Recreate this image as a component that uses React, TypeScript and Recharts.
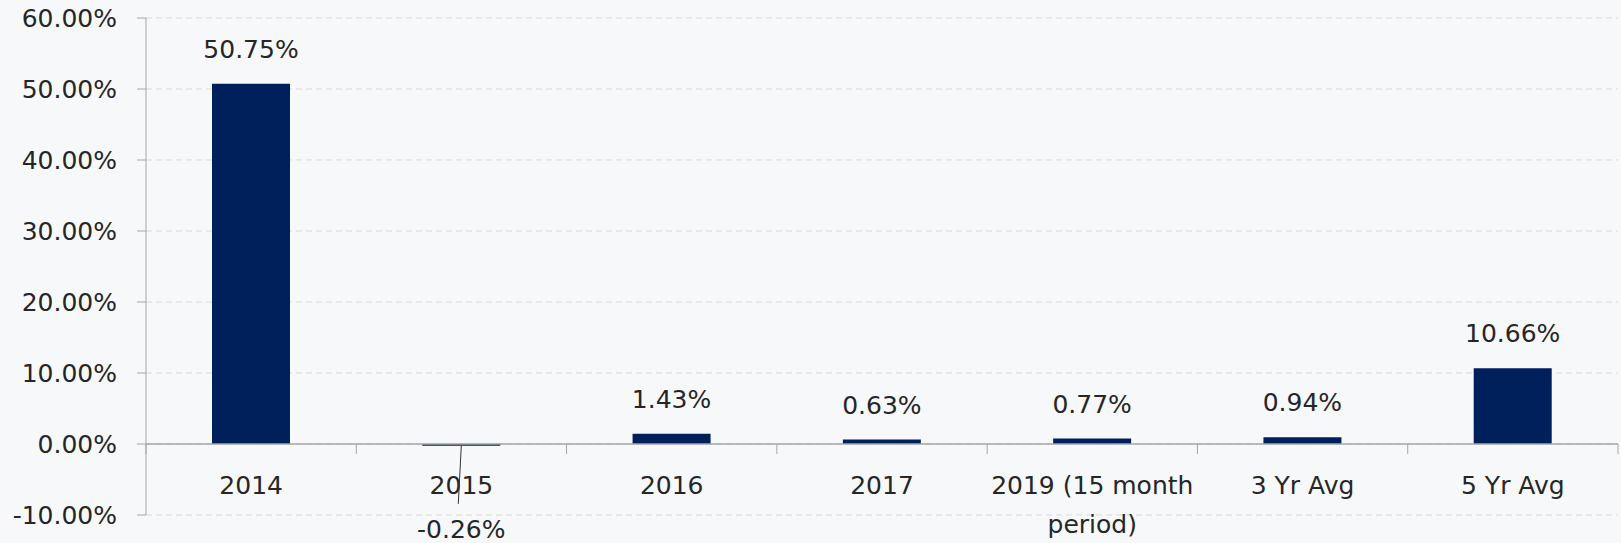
import { BarChart, Bar, XAxis, YAxis, CartesianGrid, ReferenceLine, LabelList } from 'recharts'

const CATEGORIES = ['2014', '2015', '2016', '2017', '2019 (15 month period)', '3 Yr Avg', '5 Yr Avg']
const RETURNS = [50.75, -0.26, 1.43, 0.63, 0.77, 0.94, 10.66]
const Y_TICKS = [-10, 0, 10, 20, 30, 40, 50, 60]

const data = CATEGORIES.map((name, i) => ({ name, value: RETURNS[i] }))

const W = 1621
const H = 543
const X_AXIS_H = 28
const MARGIN = { top: 18, right: 3, bottom: 0, left: 0 }
const Y_AXIS_W = 146
const PLOT_W = W - MARGIN.left - MARGIN.right - Y_AXIS_W
const PLOT_H = H - MARGIN.top - MARGIN.bottom - X_AXIS_H
const Y_MIN = Y_TICKS[0]
const Y_MAX = Y_TICKS[Y_TICKS.length - 1]
const ZERO_Y = MARGIN.top + PLOT_H * (Y_MAX / (Y_MAX - Y_MIN))
const CAT_W = PLOT_W / CATEGORIES.length
const MAX_CHARS = 14

const FONT = '"DejaVu Sans", sans-serif'
const TEXT = '#262626'
const AXIS = '#a6a6a6'
const BAR = '#00205b'

const fmt = (v: number) => `${v.toFixed(2)}%`

function wrap(label: string) {
  const lines: string[] = []
  for (const w of label.split(' ')) {
    const cur = lines[lines.length - 1]
    if (cur !== undefined && cur.length + 1 + w.length <= MAX_CHARS) lines[lines.length - 1] = cur + ' ' + w
    else lines.push(w)
  }
  return lines
}

// category labels sit under the zero line, not at the bottom of the plot
function CatTick({ x, payload, index }: any) {
  const last = index === CATEGORIES.length - 1
  return (
    <g>
      <line x1={x - CAT_W / 2} x2={x - CAT_W / 2} y1={ZERO_Y} y2={ZERO_Y + 10} stroke={AXIS} />
      {last && <line x1={x + CAT_W / 2} x2={x + CAT_W / 2} y1={ZERO_Y} y2={ZERO_Y + 10} stroke={AXIS} />}
      <text x={x} y={ZERO_Y + 50} textAnchor="middle" fontSize={25} fontFamily={FONT} fill={TEXT}>
        {wrap(String(payload.value)).map((ln, i) => (
          <tspan key={i} x={x} dy={i === 0 ? 0 : 39}>{ln}</tspan>
        ))}
      </text>
    </g>
  )
}

function BarLabel({ x, y, width, height, value }: any) {
  const cx = Number(x) + Number(width) / 2
  const top = Math.min(Number(y), Number(y) + Number(height))
  const bottom = Math.max(Number(y), Number(y) + Number(height))
  if (value < 0) {
    return (
      <g>
        <line x1={cx} y1={bottom} x2={cx - 3} y2={bottom + 58} stroke="#333" strokeWidth={1} />
        <text x={cx} y={bottom + 92} textAnchor="middle" fontSize={25} fontFamily={FONT} fill={TEXT}>
          {fmt(value)}
        </text>
      </g>
    )
  }
  return (
    <text x={cx} y={top - 26} textAnchor="middle" fontSize={25} fontFamily={FONT} fill={TEXT}>
      {fmt(value)}
    </text>
  )
}

export default function App() {
  return (
    <div style={{ position: 'fixed', left: 0, top: 0, width: W, height: H, background: '#f7f8fa' }}>
      <BarChart width={W} height={H} data={data} margin={MARGIN} barSize={78}>
        <CartesianGrid vertical={false} stroke="#d9d9d9" strokeDasharray="6 4" />
        <XAxis dataKey="name" height={X_AXIS_H} axisLine={false} tickLine={false} tick={<CatTick />} interval={0} />
        <YAxis width={Y_AXIS_W} domain={[Y_MIN, Y_MAX]} ticks={Y_TICKS} interval={0}
          tickFormatter={fmt} stroke={AXIS} tickSize={9} tickMargin={20}
          tick={{ fill: TEXT, fontSize: 25, fontFamily: FONT }} />
        <ReferenceLine y={0} stroke={AXIS} strokeWidth={1.5} />
        <Bar dataKey="value" fill={BAR} isAnimationActive={false}>
          <LabelList dataKey="value" content={<BarLabel />} />
        </Bar>
      </BarChart>
    </div>
  )
}
